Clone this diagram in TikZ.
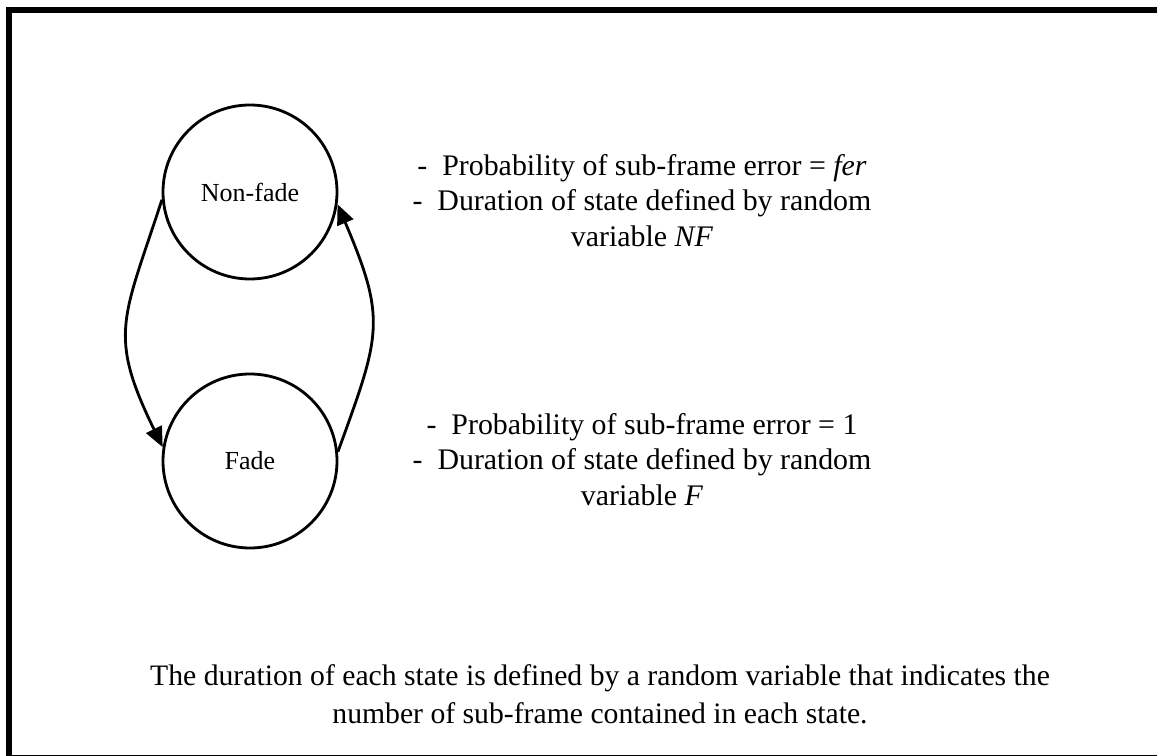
\documentclass[tikz,border=0pt]{standalone}
\usepackage{fontspec}
\setmainfont{Liberation Serif}
\usepackage{tikz}
\usetikzlibrary{arrows.meta}

\tikzset{
	state/.style={draw,thick,circle,minimum size=1.74cm,inner sep=0pt,font=\fontsize{7.4}{9}\selectfont},
	note/.style={align=center,font=\fontsize{8.5}{10}\selectfont},
	trans/.style={thick,-{Triangle[length=0.2cm,width=0.17cm]}}
}

\begin{document}
	\begin{tikzpicture}
		\useasboundingbox (0,0) rectangle (11.57,7.56);
		\draw[line width=1.7pt] (0.09,7.46) rectangle (11.70,-0.02);
		\node[state] (nonfade) at (2.50,5.64) {Non-fade};
		\node[state] (fade) at (2.50,2.95) {Fade};
		\draw[trans] (nonfade.185) to[out=252,in=116,looseness=1.3] (fade.171);
		\draw[trans] (fade.6) to[out=70,in=-67,looseness=1.3] (nonfade.-8);
		\node[note] (nfnote) at (6.42,5.555) {-\ \ Probability of sub-frame error = \textit{fer}\\-\ \ Duration of state defined by random\\variable \textit{NF}};
		\node[note] (fnote) at (6.42,2.965) {-\ \ Probability of sub-frame error = 1\\-\ \ Duration of state defined by random\\variable \textit{F}};
		\node[align=center,font=\fontsize{8.45}{10.8}\selectfont] (caption) at (6.00,0.62) {The duration of each state is defined by a random variable that indicates the\\number of sub-frame contained in each state.};
	\end{tikzpicture}
\end{document}
